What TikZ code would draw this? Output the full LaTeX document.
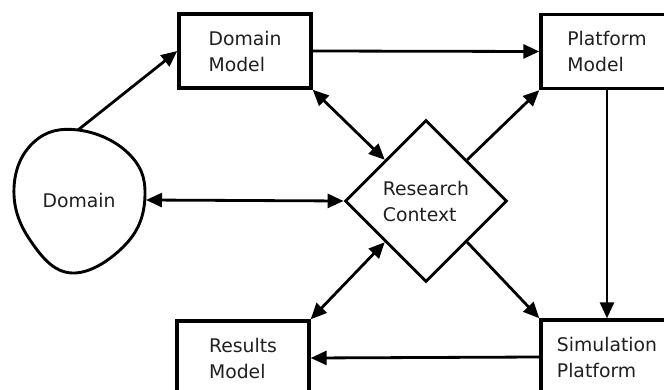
\documentclass[tikz,border=0pt]{standalone}
\usepackage{fontspec}
\setmainfont{DejaVu Sans}
\usetikzlibrary{shapes.geometric,arrows.meta}
\begin{document}
\begin{tikzpicture}[x=1pt,y=-1pt,
  lbl/.style={font=\fontsize{18.8}{26}\selectfont, text=black!88, align=left},
  box/.style={lbl, draw, line width=3.4pt, minimum width=132pt, minimum height=74pt, inner sep=0pt},
  ctx/.style={lbl, draw, diamond, line width=2.9pt, minimum width=162pt, minimum height=162pt, inner sep=0pt},
  tip/.tip={Triangle[length=16pt,width=14pt]},
  arr/.style={line width=2.8pt, -tip},
  darr/.style={line width=2.8pt, tip-tip}]
\useasboundingbox (0,0) rectangle (664,390);
\clip (0,0) rectangle (664,390);

% model boxes
\node[box] (dm) at (245,51) {Domain\\Model};
\node[box] (pm) at (607,51.5) {Platform\\Model};
\node[box] (rm) at (243,358) {Results\\Model};
\node[box] (sp) at (607,357) {Simulation\\Platform};

% research context
\node[ctx] (rc) at (426,201) {Research\\Context};

% domain blob
\draw[line width=2.9pt] plot[smooth cycle, tension=0.7] coordinates {
  (78,130) (128,153) (145,195) (126,244) (72,273)
  (30,240) (14,188) (34,142)};
\node[lbl] (dom) at (79,200) {Domain};
\coordinate (domtop) at (78,130);
\coordinate (domright) at (146,200);

% connectors
\draw[arr] (domtop) -- (dm.west);
\draw[arr] (dm.east) -- (pm.west);
\draw[darr] (rc.north west) -- (dm.south east);
\draw[darr] (rc.west) -- (domright);
\draw[arr] (rc.north east) -- (pm.south west);
\draw[arr] (pm.south) -- (sp.north);
\draw[arr] (rc.south east) -- (sp.north west);
\draw[darr] (rc.south west) -- (rm.north east);
\draw[arr] (sp.west) -- (rm.east);
\end{tikzpicture}
\end{document}
